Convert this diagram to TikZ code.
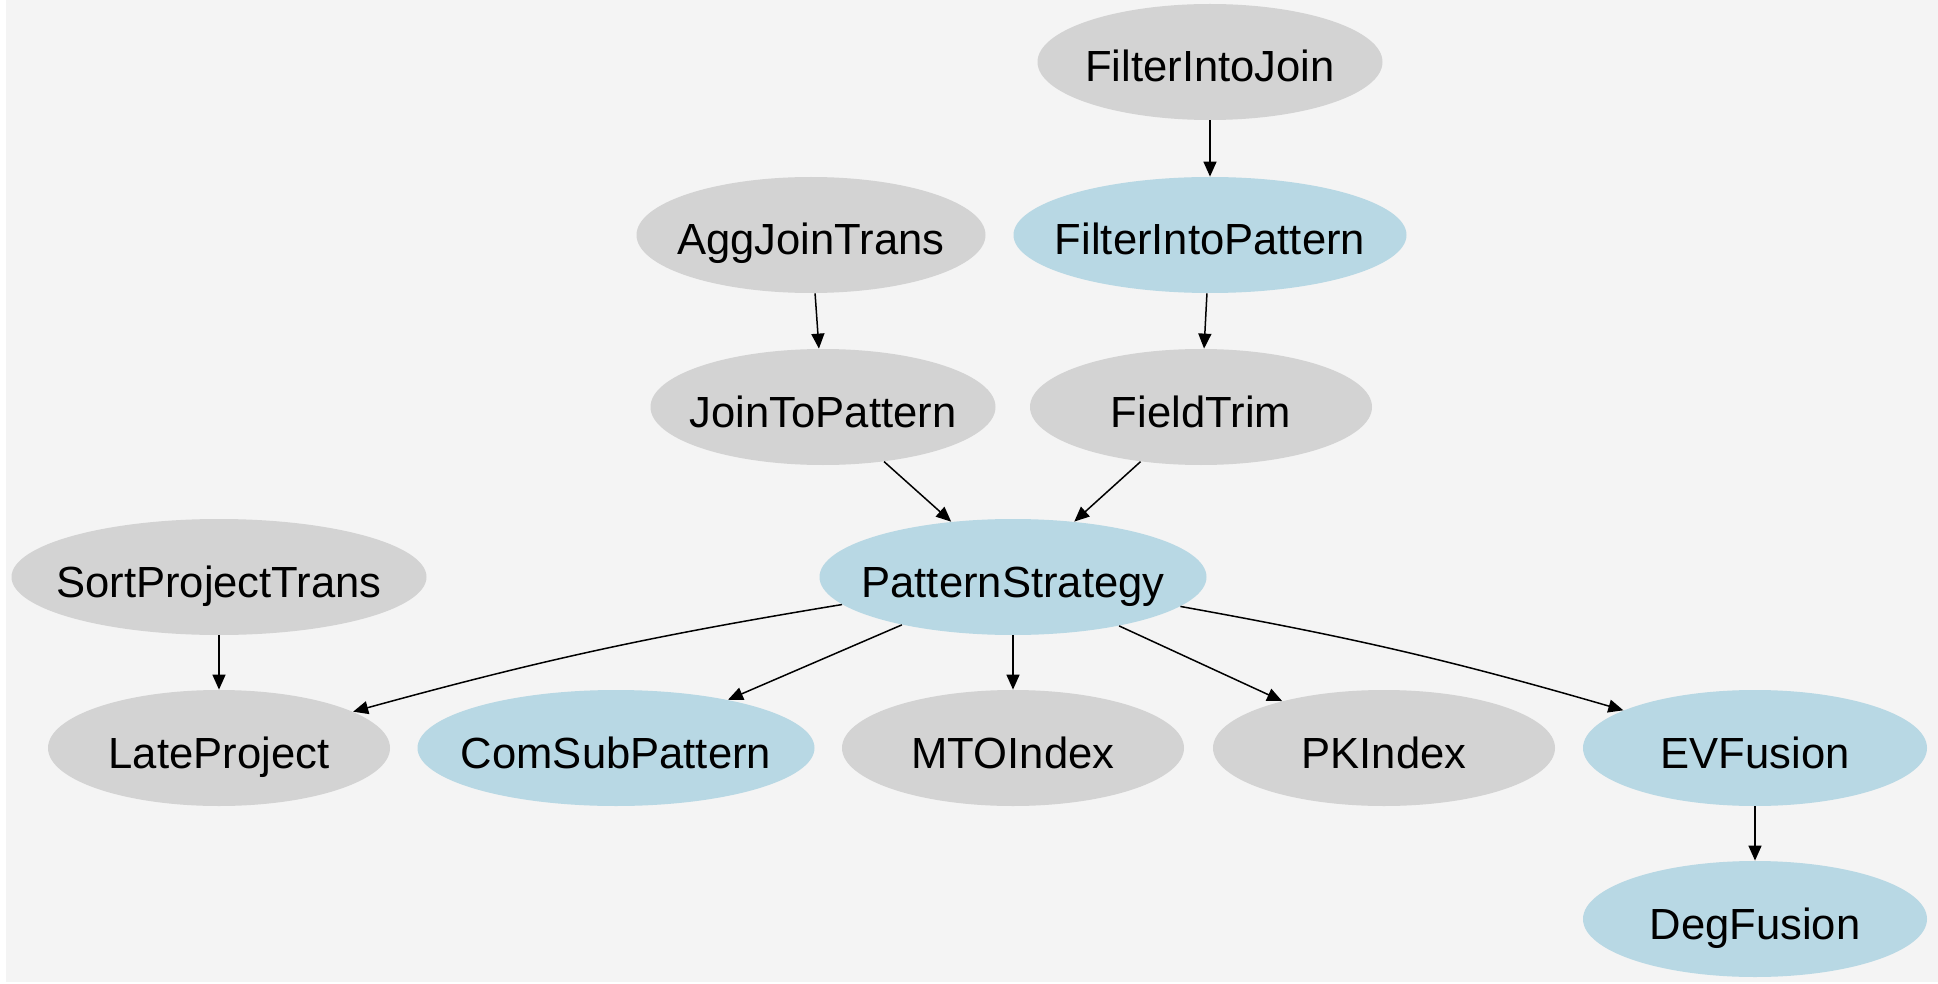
\documentclass[tikz,border=0pt]{standalone}
\usepackage{fontspec}
\setmainfont{Liberation Sans}
\usetikzlibrary{arrows.meta,shapes.geometric}
\definecolor{bgc}{RGB}{244,244,244}
\definecolor{grayn}{RGB}{211,211,211}
\definecolor{bluen}{RGB}{184,216,228}
\begin{document}
\begin{tikzpicture}[x=0.5pt,y=-0.5pt,
  nd/.style={ellipse,inner xsep=-45pt,inner ysep=0pt,minimum height=58pt,text height=22pt,text depth=2pt,font=\fontsize{21.8pt}{26pt}\selectfont,text=black},
  gnode/.style={nd,fill=grayn},
  bnode/.style={nd,fill=bluen},
  edge/.style={-{Triangle[length=7.5pt,width=6.5pt]},line width=0.75pt,black}]
\useasboundingbox (0,0) rectangle (1938,984);
\fill[white] (0,0) rectangle (1938,984);
\fill[bgc] (6,0) rectangle (1938,982);
\node[gnode,minimum width=172.5pt] (fij) at (1210,62) {FilterIntoJoin};
\node[bnode,minimum width=196.5pt] (fip) at (1210,235) {FilterIntoPattern};
\node[gnode,minimum width=174.5pt] (ajt) at (811,235) {AggJoinTrans};
\node[gnode,minimum width=172.5pt] (jtp) at (823,407) {JoinToPattern};
\node[gnode,minimum width=171pt] (ft) at (1201,407) {FieldTrim};
\node[bnode,minimum width=193.5pt] (ps) at (1013,577) {PatternStrategy};
\node[gnode,minimum width=207.5pt] (spt) at (219,577) {SortProjectTrans};
\node[gnode,minimum width=171pt] (lp) at (219,748) {LateProject};
\node[bnode,minimum width=198.5pt] (csp) at (616,748) {ComSubPattern};
\node[gnode,minimum width=171pt] (mto) at (1013,748) {MTOIndex};
\node[gnode,minimum width=171pt] (pk) at (1384,748) {PKIndex};
\node[bnode,minimum width=172pt] (ev) at (1755,748) {EVFusion};
\node[bnode,minimum width=172pt] (deg) at (1755,919) {DegFusion};
\draw[edge] (fij) -- (fip);
\draw[edge] (ajt) -- (jtp);
\draw[edge] (fip) -- (ft);
\draw[edge] (jtp) -- (ps);
\draw[edge] (ft) -- (ps);
\draw[edge] (spt) -- (lp);
\draw[edge] (ps) to[bend right=3] (lp);
\draw[edge] (ps) -- (csp);
\draw[edge] (ps) -- (mto);
\draw[edge] (ps) -- (pk);
\draw[edge] (ps) to[bend left=3] (ev);
\draw[edge] (ev) -- (deg);
\end{tikzpicture}
\end{document}
